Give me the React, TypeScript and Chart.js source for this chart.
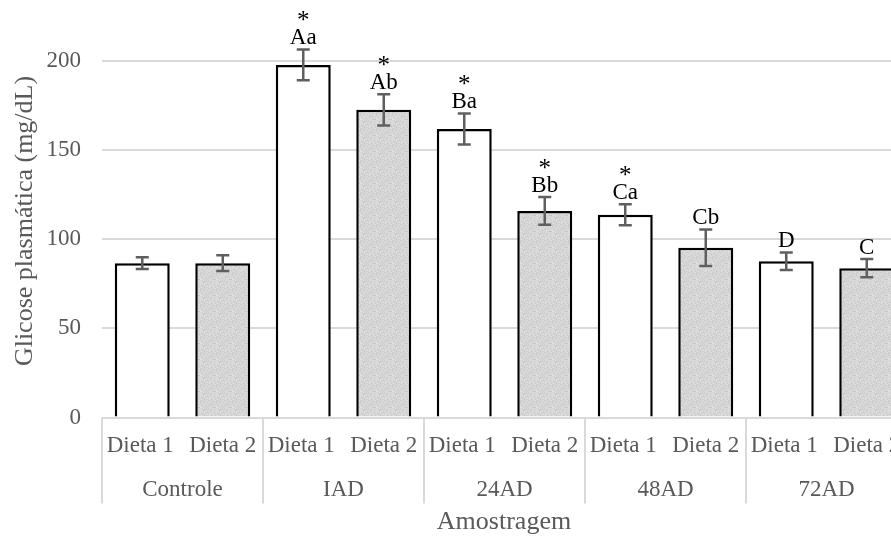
import React, { useEffect, useRef } from "react";
import { Chart, registerables } from "chart.js";

Chart.register(...registerables);

const groups = ["Controle", "IAD", "24AD", "48AD", "72AD"];
const seriesNames = ["Dieta 1", "Dieta 2"];
const dieta1 = [86.6, 197.8, 161.8, 113.8, 87.7];
const dieta2 = [86.6, 172.6, 115.9, 95.2, 83.8];
const err1 = [3.3, 8.6, 8.7, 5.9, 4.9];
const err2 = [4.4, 8.8, 7.8, 10.2, 5.1];
const letters1 = ["", "Aa", "Ba", "Ca", "D"];
const letters2 = ["", "Ab", "Bb", "Cb", "C"];
const stars1 = [false, true, true, true, false];
const stars2 = [false, true, true, false, false];
const yTicks = [0, 50, 100, 150, 200];
const yTitle = "Glicose plasmática (mg/dL)";
const xTitle = "Amostragem";

const FONT = "'Liberation Serif', 'Times New Roman', serif";
const GRAY_TEXT = "#595959";
const GRID = "#d9d9d9";

function makeTexture(): CanvasPattern | string {
  const c = document.createElement("canvas");
  c.width = 16;
  c.height = 16;
  const g = c.getContext("2d");
  if (!g) return "#d4d4d4";
  g.fillStyle = "#d6d6d6";
  g.fillRect(0, 0, 16, 16);
  for (let yy = 0; yy < 16; yy++) {
    for (let xx = 0; xx < 16; xx++) {
      const h = (xx * 7 + yy * 13 + ((xx * yy) % 5)) % 9;
      if (h === 0) {
        g.fillStyle = "#c4c4c4";
        g.fillRect(xx, yy, 1, 1);
      } else if (h === 4) {
        g.fillStyle = "#e2e2e2";
        g.fillRect(xx, yy, 1, 1);
      }
    }
  }
  const p = g.createPattern(c, "repeat");
  return p || "#d4d4d4";
}

const decor = {
  id: "decor",
  afterDatasetsDraw(chart: any) {
    const ctx = chart.ctx;
    const y = chart.scales.y;
    const sets = [
      { vals: dieta1, errs: err1, labs: letters1, stars: stars1 },
      { vals: dieta2, errs: err2, labs: letters2, stars: stars2 },
    ];
    ctx.save();
    sets.forEach((s, di) => {
      const meta = chart.getDatasetMeta(di);
      meta.data.forEach((bar: any, i: number) => {
        const x = bar.x;
        const top = y.getPixelForValue(s.vals[i] + s.errs[i]);
        const bot = y.getPixelForValue(s.vals[i] - s.errs[i]);
        ctx.strokeStyle = "#5f5f5f";
        ctx.lineWidth = 2.5;
        ctx.beginPath();
        ctx.moveTo(x, top);
        ctx.lineTo(x, bot);
        ctx.moveTo(x - 6.5, top);
        ctx.lineTo(x + 6.5, top);
        ctx.moveTo(x - 6.5, bot);
        ctx.lineTo(x + 6.5, bot);
        ctx.stroke();
        ctx.fillStyle = "#000";
        ctx.font = `23px ${FONT}`;
        ctx.textAlign = "center";
        ctx.textBaseline = "alphabetic";
        const base = top - 5.5;
        if (s.labs[i]) ctx.fillText(s.labs[i], x, base);
        if (s.stars[i]) {
          ctx.font = `25px ${FONT}`;
          ctx.fillText("*", x, base - 16);
        }
      });
    });
    ctx.restore();
  },
  afterDraw(chart: any) {
    const ctx = chart.ctx;
    const area = chart.chartArea;
    const x = chart.scales.x;
    const n = groups.length;
    const gw = (area.right - area.left) / n;
    ctx.save();
    ctx.strokeStyle = GRID;
    ctx.lineWidth = 2;
    for (let g = 0; g <= n; g++) {
      const px = area.left + g * gw;
      ctx.beginPath();
      ctx.moveTo(px, area.bottom);
      ctx.lineTo(px, area.bottom + 86);
      ctx.stroke();
    }
    ctx.fillStyle = GRAY_TEXT;
    ctx.font = `23px ${FONT}`;
    ctx.textAlign = "center";
    ctx.textBaseline = "middle";
    for (let g = 0; g < n; g++) {
      const c = x.getPixelForValue(g);
      for (let d = 0; d < 2; d++) {
        const bar = chart.getDatasetMeta(d).data[g];
        ctx.fillText(seriesNames[d], bar.x - (d === 0 ? 2 : 0), area.bottom + 28);
      }
      ctx.fillText(groups[g], c, area.bottom + 72);
    }
    ctx.font = `26px ${FONT}`;
    ctx.fillText(xTitle, 504, area.bottom + 105);
    ctx.save();
    ctx.translate(25, 221);
    ctx.rotate(-Math.PI / 2);
    ctx.fillText(yTitle, 0, 0);
    ctx.restore();
    ctx.restore();
  },
};

export default function App() {
  const ref = useRef<HTMLCanvasElement | null>(null);
  useEffect(() => {
    if (!ref.current) return;
    const tex = makeTexture();
    const chart = new Chart(ref.current, {
      type: "bar",
      data: {
        labels: groups,
        datasets: [
          {
            label: seriesNames[0],
            data: dieta1,
            backgroundColor: "#ffffff",
            borderColor: "#000000",
            borderWidth: 2.5,
            categoryPercentage: 1,
            barPercentage: 0.683,
          },
          {
            label: seriesNames[1],
            data: dieta2,
            backgroundColor: tex as any,
            borderColor: "#000000",
            borderWidth: 2.5,
            categoryPercentage: 1,
            barPercentage: 0.683,
          },
        ],
      },
      options: {
        responsive: false,
        animation: false,
        layout: { padding: { top: 61, right: 13, left: 0, bottom: 0 } },
        plugins: { legend: { display: false }, tooltip: { enabled: false } },
        scales: {
          x: {
            ticks: { display: false },
            grid: { display: false },
            border: { display: false },
            afterFit: (s: any) => {
              s.height = 118.5;
            },
          },
          y: {
            min: 0,
            max: 200,
            afterBuildTicks: (s: any) => {
              s.ticks = yTicks.map((v) => ({ value: v }));
            },
            ticks: {
              color: GRAY_TEXT,
              font: { family: FONT, size: 23 },
              padding: 21,
            },
            grid: { color: GRID, lineWidth: 2, drawTicks: false },
            border: { display: false },
            afterFit: (s: any) => {
              s.width = 102;
            },
          },
        },
      },
      plugins: [decor],
    });
    return () => chart.destroy();
  }, []);
  return (
    <div
      style={{
        position: "fixed",
        left: 0,
        top: 0,
        width: 891,
        height: 536,
        overflow: "hidden",
        background: "#fff",
      }}
    >
      <canvas ref={ref} width={920} height={536} style={{ width: 920, height: 536 }} />
    </div>
  );
}
